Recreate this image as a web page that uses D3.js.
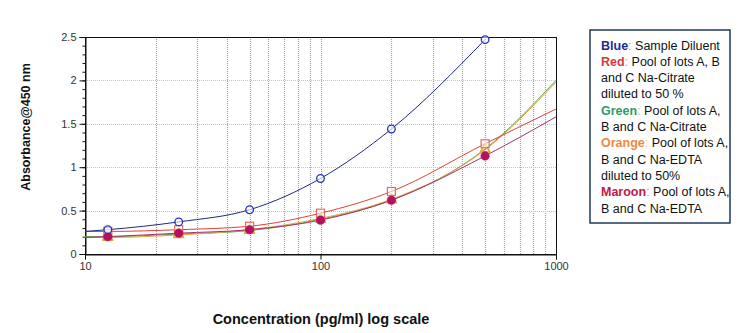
<!DOCTYPE html>
<html>
<head>
<meta charset="utf-8">
<script src="https://cdn.jsdelivr.net/npm/d3@7"></script>
<style>
  html, body { margin: 0; padding: 0; background: #fff; }
  svg { display: block; }
</style>
</head>
<body>
<svg id="chart" width="740" height="333"></svg>
<script>
// Standard concentrations (pg/ml)
const concentrations = [12.5, 25, 50, 100, 200, 500];

// Measured absorbance at 450 nm per sample
const blueValues   = [0.28, 0.37, 0.51, 0.87, 1.44, 2.47];
const redValues    = [0.26, 0.28, 0.32, 0.47, 0.72, 1.27];
const greenValues  = [0.20, 0.23, 0.27, 0.40, 0.62, 1.21];
const orangeValues = [0.19, 0.22, 0.28, 0.41, 0.63, 1.20];
const maroonValues = [0.20, 0.24, 0.28, 0.39, 0.62, 1.13];

// Fitted-curve values at the ends of the axis (10 and 1000 pg/ml)
const blueFitEnds   = [0.26, null];
const redFitEnds    = [0.26, 1.67];
const greenFitEnds  = [0.20, 2.00];
const orangeFitEnds = [0.19, 1.98];
const maroonFitEnds = [0.19, 1.58];

const xTickValues = [10, 100, 1000];
const xGridValues = [20, 30, 40, 50, 60, 70, 80, 90, 100, 200, 300, 400, 500, 600, 700, 800, 900];
const yTickValues = [0, 0.5, 1, 1.5, 2, 2.5];

const legendLines = [
  { key: "Blue", color: "#1c2a9a", text: "Sample Diluent" },
  { key: "Red", color: "#d9383a", text: "Pool of lots A, B" },
  { text: "and C Na-Citrate" },
  { text: "diluted to 50 %" },
  { key: "Green", color: "#2f9a6e", text: "Pool of lots A," },
  { text: "B and C Na-Citrate" },
  { key: "Orange", color: "#ee8a3c", text: "Pool of lots A," },
  { text: "B and C Na-EDTA" },
  { text: "diluted to 50%" },
  { key: "Maroon", color: "#c0184a", text: "Pool of lots A," },
  { text: "B and C Na-EDTA" }
];

const series = [
  { name: "green",  values: greenValues,  ends: greenFitEnds,  line: "#58a83c", marker: "triangle", mcolor: "#b8b83a" },
  { name: "orange", values: orangeValues, ends: orangeFitEnds, line: "#e8a04a", marker: "triangle", mcolor: "#d8b040" },
  { name: "red",    values: redValues,    ends: redFitEnds,    line: "#e0403a", marker: "square",   mcolor: "#e06a6a" },
  { name: "maroon", values: maroonValues, ends: maroonFitEnds, line: "#a83070", marker: "dot",      mcolor: "#b81060" },
  { name: "blue",   values: blueValues,   ends: blueFitEnds,   line: "#1e2a80", marker: "circle",   mcolor: "#2233bb" }
];

const svg = d3.select("#chart");
const plotLeft = 85, plotRight = 556, plotTop = 37, plotBottom = 254;

const x = d3.scaleLog().domain([10, 1000]).range([plotLeft, plotRight]);
const y = d3.scaleLinear().domain([0, 2.5]).range([plotBottom, plotTop]);

// grid
const grid = svg.append("g");
grid.selectAll("line.v").data(xGridValues).join("line")
  .attr("x1", d => Math.round(x(d)) + 0.5).attr("x2", d => Math.round(x(d)) + 0.5)
  .attr("y1", plotTop).attr("y2", plotBottom)
  .attr("stroke", "#4ec2d6").attr("stroke-width", 1.2).attr("stroke-dasharray", "1,1");
grid.selectAll("line.h").data(yTickValues.filter(v => v > 0 && v < 2.5)).join("line")
  .attr("x1", plotLeft).attr("x2", plotRight)
  .attr("y1", d => Math.round(y(d)) + 0.5).attr("y2", d => Math.round(y(d)) + 0.5)
  .attr("stroke", "#92d6e2").attr("stroke-width", 1).attr("stroke-dasharray", "1,1");

// frame
svg.append("rect").attr("x", plotLeft + 0.5).attr("y", plotTop + 0.5)
  .attr("width", plotRight - plotLeft).attr("height", plotBottom - plotTop)
  .attr("fill", "none").attr("stroke", "#111").attr("stroke-width", 1);

// axes
const xAxis = d3.axisBottom(x).tickValues(xTickValues).tickFormat(d3.format("d")).tickSize(5).tickPadding(3);
const gx = svg.append("g").attr("transform", `translate(0,${plotBottom + 0.5})`).call(xAxis);
const yAxis = d3.axisLeft(y).tickValues(yTickValues).tickFormat(d => String(d)).tickSize(6).tickPadding(3);
const gy = svg.append("g").attr("transform", `translate(${plotLeft + 0.5},0)`).call(yAxis);
const yMinor = d3.axisLeft(y).tickValues(d3.range(0, 2.5001, 0.1)).tickFormat("").tickSize(3);
svg.append("g").attr("transform", `translate(${plotLeft + 0.5},0)`).call(yMinor)
  .select(".domain").remove();
[gx, gy].forEach(g => {
  g.select(".domain").attr("stroke", "#111");
  g.selectAll("text").attr("font-family", "Liberation Sans, Arial, sans-serif")
    .attr("font-size", 11).attr("fill", "#333");
});
svg.selectAll(".tick line").attr("stroke", "#111");

// fitted curves
const lineGen = d3.line().x(d => x(d[0])).y(d => y(d[1])).curve(d3.curveMonotoneX);
const curves = svg.append("g");
series.forEach(s => {
  const pts = [[10, s.ends[0]]].concat(concentrations.map((c, i) => [c, s.values[i]]));
  if (s.ends[1] != null) pts.push([1000, s.ends[1]]);
  curves.append("path").datum(pts)
    .attr("d", lineGen)
    .attr("fill", "none").attr("stroke", s.line).attr("stroke-width", 1);
});

// markers
const marks = svg.append("g");
series.forEach(s => {
  const g = marks.append("g");
  concentrations.forEach((c, i) => {
    const cx = x(c), cy = y(s.values[i]);
    if (s.marker === "circle") {
      g.append("circle").attr("cx", cx).attr("cy", cy).attr("r", 3.8)
        .attr("fill", "rgba(255,255,255,0.6)").attr("stroke", s.mcolor).attr("stroke-width", 1.3);
    } else if (s.marker === "dot") {
      g.append("circle").attr("cx", cx).attr("cy", cy).attr("r", 4.3)
        .attr("fill", s.mcolor).attr("stroke", s.mcolor).attr("stroke-width", 0.5);
    } else if (s.marker === "square") {
      g.append("rect").attr("x", cx - 4).attr("y", cy - 4).attr("width", 8).attr("height", 8)
        .attr("fill", "rgba(255,255,255,0.5)").attr("stroke", s.mcolor).attr("stroke-width", 1.2);
    } else {
      g.append("path").attr("transform", `translate(${cx},${cy})`)
        .attr("d", d3.symbol(d3.symbolTriangle, 40)())
        .attr("fill", "none").attr("stroke", s.mcolor).attr("stroke-width", 1.2);
    }
  });
});

// axis titles
svg.append("text")
  .attr("transform", "translate(30,127) rotate(-90)")
  .attr("text-anchor", "middle")
  .attr("font-family", "Liberation Sans Narrow, Arial Narrow, sans-serif")
  .attr("font-weight", "bold").attr("font-size", 12.5).attr("fill", "#111")
  .text("Absorbance@450 nm");
svg.append("text")
  .attr("x", 321).attr("y", 324)
  .attr("text-anchor", "middle")
  .attr("font-family", "Liberation Sans Narrow, Arial Narrow, sans-serif")
  .attr("font-weight", "bold").attr("font-size", 14.5).attr("fill", "#111")
  .text("Concentration (pg/ml) log scale");

// legend
svg.append("rect").attr("x", 590).attr("y", 30).attr("width", 140).attr("height", 193)
  .attr("fill", "#fff").attr("stroke", "#1f3a5c").attr("stroke-width", 1.5);
const lg = svg.append("g")
  .attr("font-family", "Liberation Sans Narrow, Arial Narrow, sans-serif")
  .attr("font-size", 12.5);
legendLines.forEach((l, i) => {
  const t = lg.append("text").attr("x", 601).attr("y", 49.5 + i * 16.3).attr("fill", "#111");
  if (l.key) {
    t.append("tspan").attr("fill", l.color).attr("font-weight", "bold").text(l.key);
    t.append("tspan").attr("fill", l.color).attr("opacity", 0.55).text(": ");
  }
  t.append("tspan").text(l.text);
});
</script>
</body>
</html>
